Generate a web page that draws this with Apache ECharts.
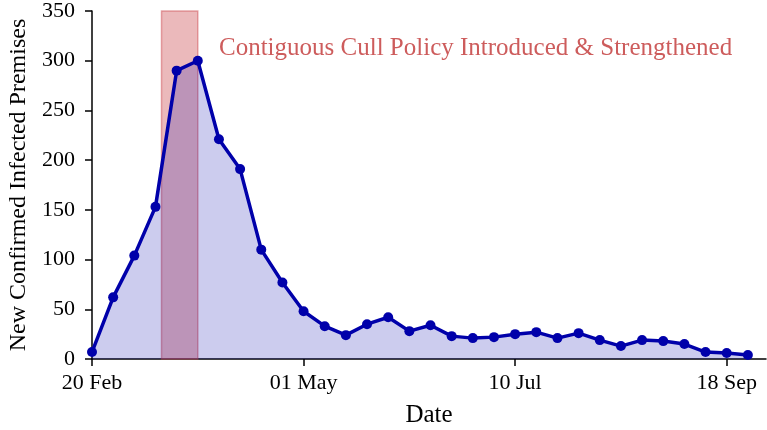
<!DOCTYPE html>
<html>
<head>
<meta charset="utf-8">
<script src="https://cdn.jsdelivr.net/npm/echarts@6/dist/echarts.min.js"></script>
<style>
  html, body { margin: 0; padding: 0; background: #fff; }
  #chart { width: 767px; height: 430px; }
</style>
</head>
<body>
<div id="chart"></div>
<script>
// days since 20 Feb, weekly
var days = [0, 7, 14, 21, 28, 35, 42, 49, 56, 63, 70, 77, 84, 91, 98, 105,
            112, 119, 126, 133, 140, 147, 154, 161, 168, 175, 182, 189, 196, 203, 210, 217];
var cases = [7, 62, 104, 153, 290, 300, 221, 191, 110, 77, 48, 33, 24, 35, 42, 28,
             34, 23, 21, 22, 25, 27, 21, 26, 19, 13, 19, 18, 15, 7, 6, 4];
var tickLabels = ['20 Feb', '01 May', '10 Jul', '18 Sep'];
var policyStart = 23;
var policyEnd = 35;
var policyText = 'Contiguous Cull Policy Introduced & Strengthened';

var serif = 'Liberation Serif';

var chart = echarts.init(document.getElementById('chart'));
chart.setOption({
    animation: false,
    grid: { left: 92, right: 1, top: 11, bottom: 71, outerBoundsMode: 'none', containLabel: false },
    xAxis: {
        type: 'value',
        min: 0,
        max: 223,
        interval: 70,
        name: 'Date',
        nameLocation: 'middle',
        nameGap: 44,
        nameTextStyle: { fontFamily: serif, fontSize: 25, color: '#000' },
        axisLine: { lineStyle: { color: '#000', width: 1.5 } },
        axisTick: { length: 7, lineStyle: { color: '#000', width: 1.5 } },
        axisLabel: {
            fontFamily: serif, fontSize: 22, color: '#000', margin: 13,
            showMaxLabel: false,
            formatter: function (v) { return tickLabels[Math.round(v / 70)] || ''; }
        },
        splitLine: { show: false }
    },
    yAxis: {
        type: 'value',
        min: 0,
        max: 350,
        interval: 50,
        name: 'New Confirmed Infected Premises',
        nameLocation: 'middle',
        nameGap: 59,
        nameTextStyle: { fontFamily: serif, fontSize: 24, color: '#000' },
        axisLine: { show: true, lineStyle: { color: '#000', width: 1.5 } },
        axisTick: { show: true, length: 7, lineStyle: { color: '#000', width: 1.5 } },
        axisLabel: { fontFamily: serif, fontSize: 22, color: '#000', margin: 17 },
        splitLine: { show: false }
    },
    series: [{
        type: 'line',
        data: days.map(function (d, i) { return [d, cases[i]]; }),
        symbol: 'circle',
        symbolSize: 10,
        lineStyle: { color: '#0000aa', width: 3.5 },
        itemStyle: { color: '#0000aa' },
        areaStyle: { color: 'rgba(0,0,170,0.2)', opacity: 1 },
        markArea: {
            silent: true,
            itemStyle: {
                color: 'rgba(205,80,85,0.4)',
                borderColor: 'rgba(205,80,85,0.5)',
                borderWidth: 1.5,
                opacity: 1
            },
            data: [[{ xAxis: policyStart }, { xAxis: policyEnd }]]
        },
        z: 3
    }],
    graphic: [{
        type: 'text',
        left: 219,
        top: 36,
        style: {
            text: policyText,
            fontFamily: serif,
            fontSize: 25,
            fill: 'rgb(205,92,92)'
        }
    }]
});
</script>
</body>
</html>
